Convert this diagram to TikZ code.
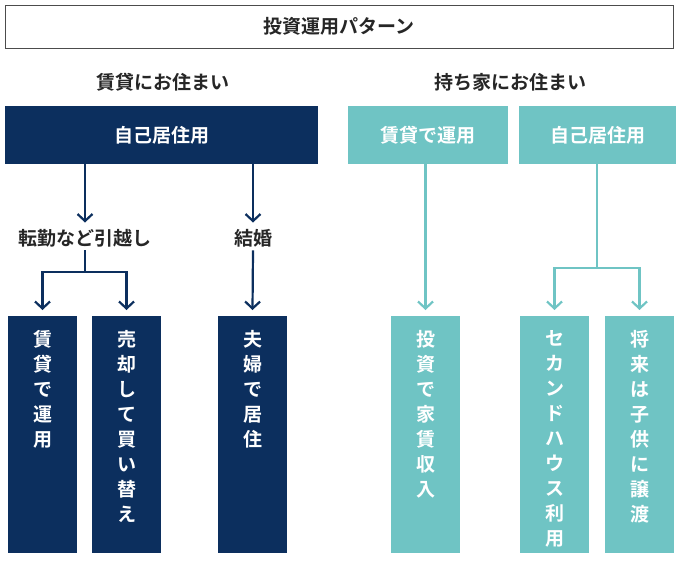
\documentclass[tikz,border=0pt]{standalone}
\usepackage{fontspec}
\setmainfont{Noto Sans CJK JP}[BoldFont={Noto Sans CJK JP Bold}]
\usetikzlibrary{arrows.meta,positioning}
\definecolor{navy}{HTML}{0C2F5E}
\definecolor{teal}{HTML}{6FC4C4}
\tikzset{
  box/.style={fill=#1, text=white, inner sep=0pt, font=\bfseries\fontsize{19}{22}\selectfont},
  tate/.style={fill=#1, inner sep=0pt, minimum width=69pt, minimum height=237pt, anchor=north},
  tatetext/.style={text=white, inner sep=0pt, anchor=north, align=center,
    font=\bfseries\fontsize{19}{25}\selectfont},
  lab/.style={font=\bfseries\fontsize{19}{22}\selectfont, text=black!85},
  link/.style={draw=#1, line width=2.2pt},
  arr/.style={link=#1, -{Straight Barb[length=7pt,width=15pt,line width=2.2pt]}}
}
\begin{document}
\begin{tikzpicture}[x=1pt,y=-1pt]
    \useasboundingbox (0,0) rectangle (680,560);
    % Titel
    \node[draw=black!70, minimum width=668pt, minimum height=43pt, inner sep=0pt, lab] (title) at (339,26.5) {投資運用パターン};
    \node[lab] (rent) at (163,82) {賃貸にお住まい};
    \node[lab] (own) at (510,82) {持ち家にお住まい};
    % Kopfboxen
    \node[box=navy, minimum width=313pt, minimum height=58pt] (home) at (161.5,135) {自己居住用};
    \node[box=teal, minimum width=160pt, minimum height=58pt] (lease) at (428,135) {賃貸で運用};
    \node[box=teal, minimum width=157pt, minimum height=58pt] (self) at (597.5,135) {自己居住用};
    % Zwischenstufe
    \node[lab] (move) at (85,238) {転勤など引越し};
    \node[lab] (wed) at (253,238) {結婚};
    % Senkrechte Boxen
    \node[tate=navy] (b1) at (42.5,316) {};
    \node[tate=navy] (b2) at (126.5,316) {};
    \node[tate=navy] (b3) at (252.5,316) {};
    \node[tate=teal] (b4) at (425.5,316) {};
    \node[tate=teal] (b5) at (554.5,316) {};
    \node[tate=teal] (b6) at (639.5,316) {};
    \node[tatetext, below=14pt of b1.north] (t1) {賃\\貸\\で\\運\\用};
    \node[tatetext, below=14pt of b2.north] (t2) {売\\却\\し\\て\\買\\い\\替\\え};
    \node[tatetext, below=14pt of b3.north] (t3) {夫\\婦\\で\\居\\住};
    \node[tatetext, below=14pt of b4.north] (t4) {投\\資\\で\\家\\賃\\収\\入};
    \node[tatetext, below=14pt of b5.north] (t5) {セ\\カ\\ン\\ド\\ハ\\ウ\\ス\\利\\用};
    \node[tatetext, below=14pt of b6.north] (t6) {将\\来\\は\\子\\供\\に\\譲\\渡};
    % Verbindungen
    \coordinate (j1) at (85,272);
    \coordinate (j2) at (597,268);
    \draw[arr=navy] (home.south -| move) -- ([yshift=3pt]move.north);
    \draw[arr=navy] (home.south -| wed) -- ([yshift=3pt]wed.north);
    \draw[link=navy] (move.south) -- (j1);
    \draw[arr=navy] (j1) -| ([yshift=6pt]b1.north);
    \draw[arr=navy] (j1) -| ([yshift=6pt]b2.north);
    \draw[arr=navy] (wed.south) -- ([yshift=6pt]b3.north);
    \draw[arr=teal] (lease.south -| b4) -- ([yshift=6pt]b4.north);
    \draw[link=teal] (self.south -| j2) -- (j2);
    \draw[arr=teal] (j2) -| ([yshift=6pt]b5.north);
    \draw[arr=teal] (j2) -| ([yshift=6pt]b6.north);
\end{tikzpicture}
\end{document}
